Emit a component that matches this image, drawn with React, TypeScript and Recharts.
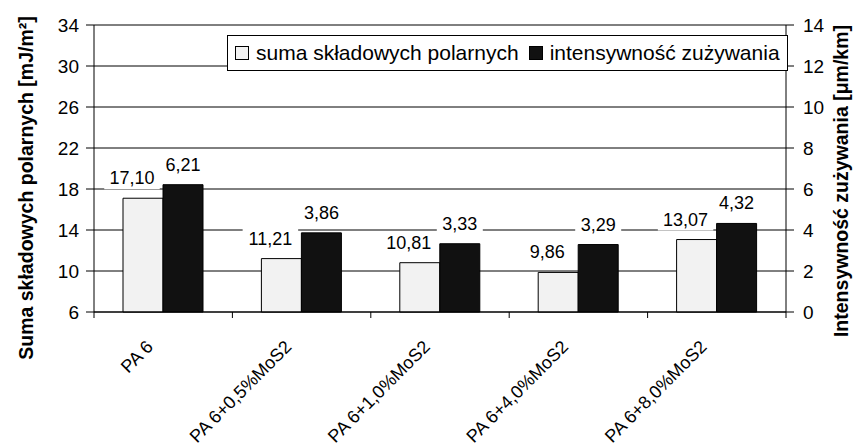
import React from "react";
import { BarChart, Bar, XAxis, YAxis, CartesianGrid, LabelList } from "recharts";

const categories = ["PA 6", "PA 6+0,5%MoS2", "PA 6+1,0%MoS2", "PA 6+4,0%MoS2", "PA 6+8,0%MoS2"];
const sumaPolarnych = [17.1, 11.21, 10.81, 9.86, 13.07];
const intensywnoscZuzywania = [6.21, 3.86, 3.33, 3.29, 4.32];
const leftTicks = [6, 10, 14, 18, 22, 26, 30, 34];
const rightTicks = [0, 2, 4, 6, 8, 10, 12, 14];
const seriesNames = ["suma składowych polarnych", "intensywność zużywania"];
const seriesFills = ["#f2f2f2", "#111111"];
const leftTitle = "Suma składowych polarnych [mJ/m²]";
const rightTitle = "Intensywność zużywania [μm/km]";

const data = categories.map((name, i) => ({
  name,
  suma: sumaPolarnych[i],
  intensywnosc: intensywnoscZuzywania[i],
}));

const FONT = '"Liberation Sans", Arial, sans-serif';
const fmt = (v: number) => v.toFixed(2).replace(".", ",");

// value label with white box so it cuts the gridlines like in the original
const makeValueLabel = (dx: number) => (props: any) => {
  const { x, y, width, value } = props;
  const cx = Number(x) + Number(width) / 2 + dx;
  const base = Number(y) - 14;
  const text = fmt(Number(value));
  const w = text.length * 9.5 + 8;
  return (
    <g>
      <rect x={cx - w / 2} y={base - 17} width={w} height={22} fill="#fff" />
      <text x={cx} y={base} textAnchor="middle" fontSize={18} fontFamily={FONT} fill="#000">
        {text}
      </text>
    </g>
  );
};

const CategoryTick = (props: any) => {
  const { x, y, payload, index } = props;
  const half = payload?.offset ?? 69.2;
  const ax = Number(x);
  const ay = Number(y);
  const lx = ax - 9;
  const ly = ay + 36;
  return (
    <g>
      <line x1={ax - half} y1={ay} x2={ax - half} y2={ay + 6} stroke="#000" />
      {index === categories.length - 1 && (
        <line x1={ax + half} y1={ay} x2={ax + half} y2={ay + 6} stroke="#000" />
      )}
      <text
        x={lx}
        y={ly}
        transform={`rotate(-45 ${lx} ${ly})`}
        textAnchor="end"
        fontSize={18}
        fontFamily={FONT}
        fill="#000"
      >
        {payload.value}
      </text>
    </g>
  );
};

const titleStyle: React.CSSProperties = {
  position: "absolute",
  whiteSpace: "nowrap",
  fontFamily: FONT,
  fontWeight: "bold",
  fontSize: 19.5,
  lineHeight: "22px",
  color: "#000",
  transform: "translate(-50%, -50%) rotate(-90deg)",
};

const App = () => {
  return (
    <div style={{ position: "absolute", left: 0, top: 0, width: 857, height: 446, background: "#fff" }}>
      <BarChart
        width={857}
        height={446}
        data={data}
        margin={{ top: 25, right: 0, bottom: 0, left: 0 }}
        barGap={0}
      >
        <CartesianGrid yAxisId="left" vertical={false} stroke="#000" />
        <XAxis
          dataKey="name"
          height={134}
          tickSize={0}
          tickMargin={0}
          tickLine={false}
          interval={0}
          axisLine={{ stroke: "#000" }}
          tick={<CategoryTick />}
        />
        <YAxis
          yAxisId="left"
          orientation="left"
          width={94}
          domain={[6, 34]}
          ticks={leftTicks}
          interval={0}
          tickSize={8}
          tickMargin={7}
          axisLine={{ stroke: "#000" }}
          tickLine={{ stroke: "#000" }}
          tick={{ fontSize: 19, fill: "#000", fontFamily: FONT }}
        />
        <YAxis
          yAxisId="right"
          orientation="right"
          width={71}
          domain={[0, 14]}
          ticks={rightTicks}
          interval={0}
          tickSize={8}
          tickMargin={9}
          axisLine={{ stroke: "#000" }}
          tickLine={{ stroke: "#000" }}
          tick={{ fontSize: 19, fill: "#000", fontFamily: FONT }}
        />
        <Bar
          yAxisId="left"
          dataKey="suma"
          name={seriesNames[0]}
          fill={seriesFills[0]}
          stroke="#000"
          strokeWidth={1}
          barSize={40}
          isAnimationActive={false}
        >
          <LabelList dataKey="suma" content={makeValueLabel(-11)} />
        </Bar>
        <Bar
          yAxisId="right"
          dataKey="intensywnosc"
          name={seriesNames[1]}
          fill={seriesFills[1]}
          stroke="#000"
          strokeWidth={1}
          barSize={40}
          isAnimationActive={false}
        >
          <LabelList dataKey="intensywnosc" content={makeValueLabel(0)} />
        </Bar>
      </BarChart>

      <div style={{ ...titleStyle, left: 26, top: 188 }}>{leftTitle}</div>
      <div style={{ ...titleStyle, left: 841, top: 181 }}>{rightTitle}</div>

      <div
        style={{
          position: "absolute",
          left: 227,
          top: 35,
          width: 561,
          height: 36,
          boxSizing: "border-box",
          border: "1px solid #000",
          background: "#fff",
          display: "flex",
          alignItems: "center",
          paddingLeft: 7,
          fontFamily: FONT,
          fontSize: 21,
          color: "#000",
          whiteSpace: "nowrap",
        }}
      >
        {seriesNames.map((n, i) => (
          <span key={n} style={{ display: "flex", alignItems: "center", marginRight: 10 }}>
            <span
              style={{
                display: "inline-block",
                width: 14,
                height: 14,
                boxSizing: "border-box",
                border: "1px solid #000",
                background: seriesFills[i],
                marginRight: 7,
              }}
            />
            {n}
          </span>
        ))}
      </div>
    </div>
  );
};

export default App;
